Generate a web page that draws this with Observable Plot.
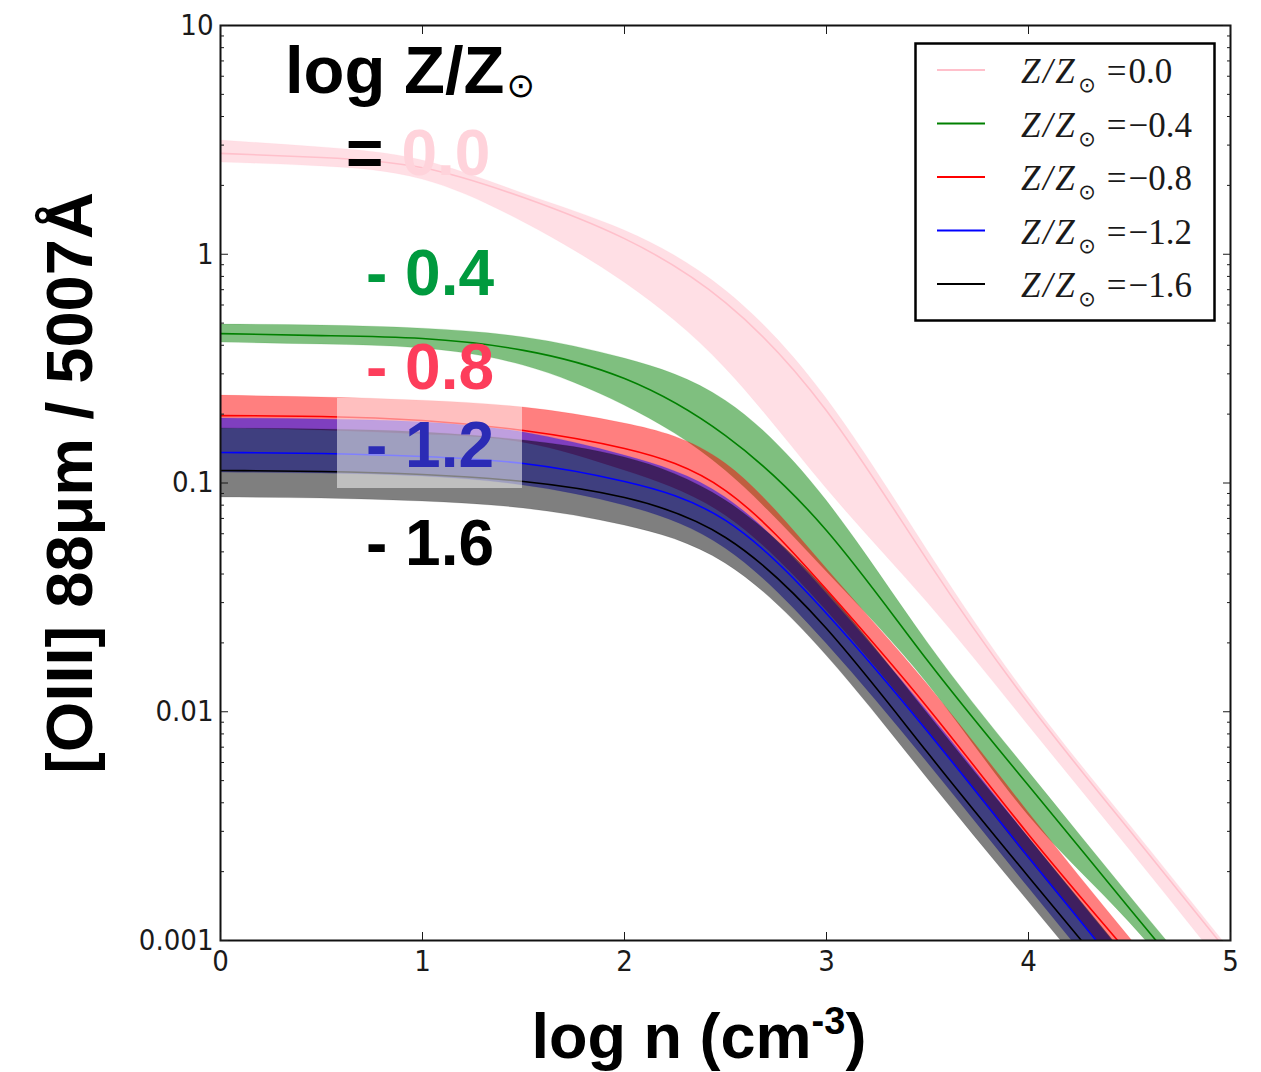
<!DOCTYPE html>
<html><head><meta charset="utf-8">
<script src="https://cdn.jsdelivr.net/npm/d3@7"></script>
<script src="https://cdn.jsdelivr.net/npm/@observablehq/plot@0.6"></script>
<style>
body{margin:0;background:#fff;}
#wrap{position:relative;width:1261px;height:1072px;overflow:hidden;background:#fff;}
#wrap svg{position:absolute;left:0;top:0;}
</style></head><body><div id="wrap"></div>
<script>
// x: log n (cm^-3)
const logN = [0, 0.5, 1, 1.5, 2, 2.5, 3, 3.5, 4, 4.5, 5];
const metallicities = ["0.0", "-0.4", "-0.8", "-1.2", "-1.6"];
const seriesColors = ["pink", "green", "red", "blue", "black"];
const legendValues = ["0.0", "\u22120.4", "\u22120.8", "\u22121.2", "\u22121.6"];
const annotationLabels = ["= 0.0", "- 0.4", "- 0.8", "- 1.2", "- 1.6"];
const annotationColors = ["#ffd3db", "#009a3e", "#fd3d5b", "#2b2bb5", "#000000"];

// [OIII]88um / 5007A : upper edge, central line, lower edge of each band
const pinkHigh  = [3.14, 2.93, 2.57, 1.84, 1.27, 0.694, 0.234, 0.0507, 0.01154, 0.00321, 0.000904];
const pinkMid   = [2.76, 2.65, 2.39, 1.77, 1.17, 0.615, 0.207, 0.0458, 0.01086, 0.00303, 0.000860];
const pinkLow   = [2.52, 2.42, 2.12, 1.38, 0.752, 0.317, 0.0946, 0.0300, 0.00871, 0.00250, 0.000703];

const greenHigh = [0.493, 0.488, 0.473, 0.433, 0.350, 0.229, 0.0838, 0.0201, 0.00548, 0.00157, 0.000461];
const greenMid  = [0.450, 0.441, 0.428, 0.380, 0.286, 0.161, 0.0620, 0.01675, 0.00476, 0.00138, 0.000404];
const greenLow  = [0.411, 0.403, 0.387, 0.326, 0.218, 0.1134, 0.0410, 0.01329, 0.00352, 0.00120, 0.000348];

const redHigh   = [0.241, 0.2365, 0.229, 0.2138, 0.182, 0.1217, 0.0423, 0.01315, 0.00363, 0.00103, 0.000299];
const redMid    = [0.197, 0.1953, 0.1876, 0.1696, 0.1415, 0.0927, 0.0342, 0.01044, 0.00291, 0.000869, 0.000257];
const redLow    = [0.173, 0.1696, 0.163, 0.150, 0.1134, 0.0721, 0.0277, 0.00828, 0.00228, 0.000682, 0.0002];

const blueHigh  = [0.1914, 0.1895, 0.1839, 0.1663, 0.1319, 0.0864, 0.0329, 0.01003, 0.00282, 0.00081, 0.000235];
const blueMid   = [0.1359, 0.1346, 0.1305, 0.1217, 0.1015, 0.0686, 0.0269, 0.0082, 0.00231, 0.000662, 0.000192];
const blueLow   = [0.1111, 0.110, 0.1067, 0.0975, 0.0797, 0.0517, 0.01988, 0.0060, 0.001705, 0.000494, 0.000145];

const blackHigh = [0.173, 0.1713, 0.1663, 0.1534, 0.1293, 0.0838, 0.0339, 0.00982, 0.00282, 0.000818, 0.000239];
const blackMid  = [0.1134, 0.1123, 0.109, 0.1015, 0.0864, 0.0578, 0.0231, 0.00663, 0.0019, 0.000558, 0.000163];
const blackLow  = [0.0864, 0.0855, 0.083, 0.0774, 0.0652, 0.0445, 0.0176, 0.00511, 0.00148, 0.000434, 0.000127];

const xTicks = [0, 1, 2, 3, 4, 5];
const yMajor = [0.001, 0.01, 0.1, 1, 10];
const yMinor = [];
for (const d of [0.001, 0.01, 0.1, 1]) for (let k = 2; k <= 9; k++) yMinor.push(+(d * k).toPrecision(3));

const bands = [
  [pinkHigh, pinkMid, pinkLow],
  [greenHigh, greenMid, greenLow],
  [redHigh, redMid, redLow],
  [blueHigh, blueMid, blueLow],
  [blackHigh, blackMid, blackLow]
];
const rows = [];
bands.forEach(([hi, mid, lo], i) => {
  logN.forEach((n, j) => rows.push({n, z: metallicities[i], hi: hi[j], mid: mid[j], lo: lo[j]}));
});

const tickFont = "'DejaVu Sans Condensed', 'DejaVu Sans', sans-serif";
const noText = () => "";

const chart = Plot.plot({
  width: 1261,
  height: 1072,
  marginLeft: 220,
  marginRight: 31,
  marginTop: 25,
  marginBottom: 132,
  style: {fontFamily: tickFont, fontSize: "29px", color: "#1a1a1a", background: "transparent"},
  x: {domain: [0, 5]},
  y: {type: "log", domain: [0.001, 10]},
  color: {domain: metallicities, range: seriesColors},
  marks: [
    Plot.areaY(rows, {x: "n", y1: "lo", y2: "hi", z: "z", fill: "z", fillOpacity: 0.5,
      stroke: "z", strokeOpacity: 0.12, strokeWidth: 1, curve: "natural", clip: true}),
    Plot.line(rows, {x: "n", y: "mid", z: "z", stroke: "z", strokeWidth: 1.6, curve: "natural", clip: true}),
    Plot.frame({stroke: "#111", strokeWidth: 2}),
    Plot.axisX({anchor: "bottom", ticks: xTicks, tickSize: -8, tickPadding: 18, label: null, fontSize: 29,
      tickFormat: d => String(d)}),
    Plot.axisX({anchor: "top", ticks: xTicks, tickSize: -8, tickFormat: noText, label: null}),
    Plot.axisY({anchor: "left", ticks: yMajor, tickSize: -8, tickPadding: 15, label: null,
      tickFormat: d => String(d), fontSize: 29}),
    Plot.axisY({anchor: "left", ticks: yMinor, tickSize: -4, tickFormat: noText, label: null}),
    Plot.axisY({anchor: "right", ticks: yMajor, tickSize: -8, tickFormat: noText, label: null}),
    Plot.axisY({anchor: "right", ticks: yMinor, tickSize: -4, tickFormat: noText, label: null})
  ]
});
const wrap = document.getElementById("wrap");
wrap.appendChild(chart);

// overlay: axis titles, annotations, legend
const NS = "http://www.w3.org/2000/svg";
const ov = document.createElementNS(NS, "svg");
ov.setAttribute("width", 1261); ov.setAttribute("height", 1072);
ov.style.pointerEvents = "none";
wrap.appendChild(ov);
function el(tag, attrs, parent = ov) {
  const e = document.createElementNS(NS, tag);
  for (const k in attrs) e.setAttribute(k, attrs[k]);
  parent.appendChild(e);
  return e;
}
function tspan(parent, text, attrs = {}) { const t = el("tspan", attrs, parent); t.textContent = text; return t; }
const bold = "'Liberation Sans', Arial, Helvetica, sans-serif";

// y title
const yt = el("text", {transform: "translate(92,483) rotate(-90)", "text-anchor": "middle",
  "font-family": bold, "font-weight": "bold", "font-size": 65, fill: "#000"});
yt.textContent = "[OIII] 88\u03bcm  / 5007\u00c5";

// x title
const xt = el("text", {x: 699, y: 1058, "text-anchor": "middle", "font-family": bold,
  "font-weight": "bold", "font-size": 63, fill: "#000"});
tspan(xt, "log n (cm");
tspan(xt, "-3", {dy: -24, "font-size": 38});
tspan(xt, ")", {dy: 24});

// annotation block
const t0 = el("text", {x: 285, y: 93, "font-family": bold, "font-weight": "bold", "font-size": 67, fill: "#000"});
tspan(t0, "log Z/Z");
tspan(t0, "\u2299", {dx: 2, dy: 4, "font-size": 34, "font-weight": "normal", "font-family": "'DejaVu Sans', sans-serif"});

el("rect", {x: 337, y: 398, width: 185, height: 90, fill: "#fff", "fill-opacity": 0.5});
const annY = [175, 295, 389, 467, 565];
annotationLabels.forEach((lab, i) => {
  const t = el("text", {x: i === 0 ? 346 : 366, y: annY[i], "font-family": bold, "font-weight": "bold",
    "font-size": 64, fill: annotationColors[i]});
  if (i === 0) {
    tspan(t, "=", {fill: "#000"});
    tspan(t, lab.slice(2), {dx: 18});
  } else {
    tspan(t, lab);
  }
});

// legend
el("rect", {x: 915.5, y: 43.5, width: 299, height: 277, fill: "#fff", stroke: "#000", "stroke-width": 2.5});
metallicities.forEach((m, i) => {
  const y = 70 + 53.5 * i;
  el("line", {x1: 937, x2: 985, y1: y, y2: y, stroke: seriesColors[i], "stroke-width": 2.2});
  const t = el("text", {x: 1021, y: y + 13, "font-family": "'Liberation Serif', 'DejaVu Serif', serif",
    "font-size": 35, fill: "#1a1a1a"});
  tspan(t, "Z/Z", {"font-style": "italic", "letter-spacing": 2.5});
  tspan(t, "\u2299", {dx: 1, dy: 9, "font-size": 21, "font-family": "'DejaVu Sans', sans-serif"});
  tspan(t, "=", {dx: 11, dy: -9});
  tspan(t, legendValues[i], {dx: 2});
});
</script></body></html>
